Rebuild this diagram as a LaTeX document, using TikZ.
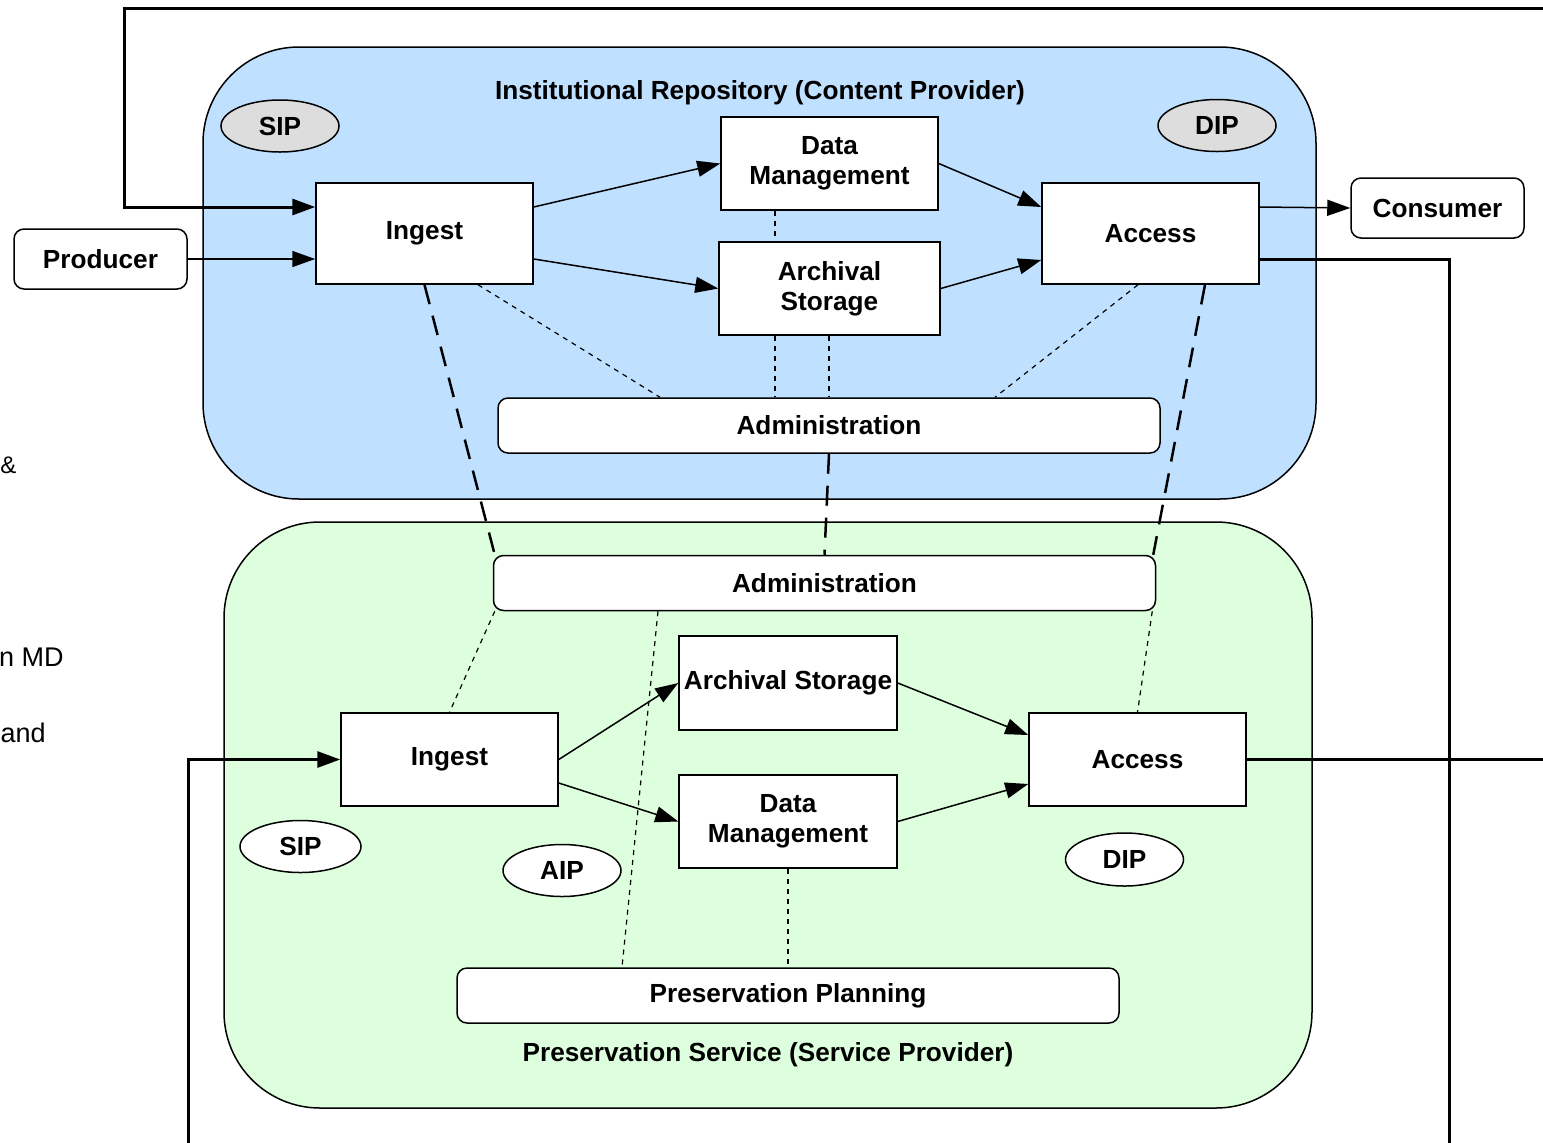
\documentclass[tikz,border=0pt]{standalone}
\usepackage{fontspec}
\setmainfont{Liberation Sans}
\usetikzlibrary{shapes,arrows.meta,positioning}

\definecolor{repoblue}{RGB}{191,224,255}
\definecolor{servgreen}{RGB}{221,255,221}
\definecolor{pkggray}{RGB}{221,221,221}

\begin{document}
\begin{tikzpicture}[
  x=0.5pt, y=-0.5pt,
  lbl/.style={font=\fontsize{13.1}{15}\selectfont\bfseries},
  func/.style={
    rectangle,
    draw=black,
    line width=0.75pt,
    fill=white,
    inner sep=0pt,
    align=center,
    lbl,
    minimum width=108.5pt,
    minimum height=50.5pt
  },
  entity/.style={func, rounded corners=5pt, minimum width=86.5pt, minimum height=30pt},
  admin/.style={func, rounded corners=5pt, minimum width=331pt, minimum height=27.5pt},
  pkg/.style={ellipse, draw=black, line width=0.75pt, inner sep=0pt, lbl,
    minimum width=59pt, minimum height=26pt},
  system/.style={draw=black, line width=0.75pt, rounded corners=48pt},
  flow/.style={-{Triangle[length=11.5pt,width=8pt]}, line width=0.75pt},
  feed/.style={line width=1.5pt},
  link/.style={line width=1.25pt, dash pattern=on 10pt off 6pt},
  rel/.style={line width=0.6pt, dash pattern=on 2.5pt off 2.5pt}
]
\useasboundingbox (0,0) rectangle (1543,1142);

% --- CONTAINERS ----------------------------------------------------
\draw[system, fill=repoblue] (203,47) rectangle (1316,499);
\draw[system, fill=servgreen] (224,522) rectangle (1312,1108);

\node[lbl] (repotitle) at (760,93) {Institutional Repository (Content Provider)};
\node[lbl] (servtitle) at (768,1055) {Preservation Service (Service Provider)};

% --- CLIPPED TEXT ON THE LEFT -------------------------------------
\node[font=\fontsize{12}{16}\selectfont, anchor=west, inner sep=0pt] (fragA) at (0,465) {\&};
\node[font=\fontsize{13.5}{16}\selectfont, anchor=east, inner sep=0pt] (fragB) at (64,657) {n MD};
\node[font=\fontsize{13.5}{16}\selectfont, anchor=east, inner sep=0pt] (fragC) at (46,733) {and};

% --- REPOSITORY ----------------------------------------------------
\node[pkg, fill=pkggray] (sipA) at (280,126) {SIP};
\node[pkg, fill=pkggray] (dipA) at (1217,125.5) {DIP};
\node[func] (ingA) at (424.5,233.5) {Ingest};
\node[func, minimum height=46.5pt] (dmA) at (829.5,163.5) {Data\\Management};
\node[func, minimum width=110.5pt, minimum height=46.5pt] (arcA) at (829.5,288.5) {Archival\\Storage};
\node[func] (accA) at (1150.5,233.5) {Access};
\node[admin] (admA) at (829,425.5) {Administration};

% --- PRODUCER / CONSUMER -------------------------------------------
\node[entity] (prod) at (100.5,259) {Producer};
\node[entity] (cons) at (1437.5,208) {Consumer};

% --- PRESERVATION SERVICE ------------------------------------------
\node[admin] (admB) at (824.5,583) {Administration};
\node[func, minimum width=109pt, minimum height=47pt] (arcB) at (788,683) {Archival Storage};
\node[func, minimum height=46.5pt] (ingB) at (449.5,759.5) {Ingest};
\node[func, minimum width=109pt, minimum height=46.5pt] (dmB) at (788,821.5) {Data\\Management};
\node[func, minimum height=46.5pt] (accB) at (1137.5,759.5) {Access};
\node[pkg, fill=white, minimum width=60.5pt] (sipB) at (300.5,846.5) {SIP};
\node[pkg, fill=white] (aipB) at (562,870.5) {AIP};
\node[pkg, fill=white, minimum height=26.5pt] (dipB) at (1124.5,859.5) {DIP};
\node[admin] (plan) at (788,995.5) {Preservation Planning};

% --- OUTSIDE ENDS --------------------------------------------------
\coordinate (topR) at (1560,8);
\coordinate (topL) at (124,8);
\coordinate (rdown) at (1449,1160);
\coordinate (ldown) at (188,1160);
\coordinate (rout) at (1560,759.5);

% --- ARROWS --------------------------------------------------------
\draw[flow, feed] (topR) -- (topL) |- ([yshift=13.25pt]ingA.west);
\draw[flow] (prod.east) -- ([yshift=-12.75pt]ingA.west);
\draw[flow] ([yshift=13.25pt]ingA.east) -- (dmA.west);
\draw[flow] ([yshift=-12.75pt]ingA.east) -- (arcA.west);
\draw[flow] (dmA.east) -- ([yshift=13.25pt]accA.west);
\draw[flow] (arcA.east) -- ([yshift=-13.25pt]accA.west);
\draw[flow] ([yshift=13.25pt]accA.east) -- (cons.west);
\draw[feed] ([yshift=-12.75pt]accA.east) -| (rdown);

\draw[flow, feed] (ldown) |- (ingB.west);
\draw[flow] (ingB.east) -- (arcB.west);
\draw[flow] ([yshift=-11.75pt]ingB.east) -- (dmB.west);
\draw[flow] (arcB.east) -- ([yshift=12.25pt]accB.west);
\draw[flow] (dmB.east) -- ([yshift=-12.25pt]accB.west);
\draw[feed] (accB.east) -- (rout);

% --- LINKS BETWEEN THE TWO SIDES ----------------------------------
\draw[link] (ingA.south) -- ([xshift=1pt]admB.north west);
\draw[link] (admA.south) -- (admB.north);
\draw[link] ([xshift=27.25pt]accA.south) -- ([xshift=-1.5pt]admB.north east);

% --- DOTTED RELATIONS ---------------------------------------------
\draw[rel] ([xshift=-27.25pt]dmA.south) -- ([xshift=-27.25pt]arcA.north);
\draw[rel] ([xshift=-27.25pt]arcA.south) -- ([xshift=-27.25pt]arcA.south |- admA.north);
\draw[rel] ([xshift=-0.25pt]arcA.south) -- ([xshift=-0.25pt]arcA.south |- admA.north);
\draw[rel] ([xshift=26.75pt]ingA.south) -- ([xshift=-84.5pt]admA.north);
\draw[rel] ([xshift=-6.25pt]accA.south) -- ([xshift=83pt]admA.north);

\draw[rel] ([xshift=1pt]admB.south west) -- (ingB.north);
\draw[rel] ([xshift=-83.25pt]admB.south) -- ([xshift=-83pt]plan.north);
\draw[rel] ([xshift=-2pt]admB.south east) -- (accB.north);
\draw[rel] (dmB.south) -- (plan.north);

\end{tikzpicture}
\end{document}
